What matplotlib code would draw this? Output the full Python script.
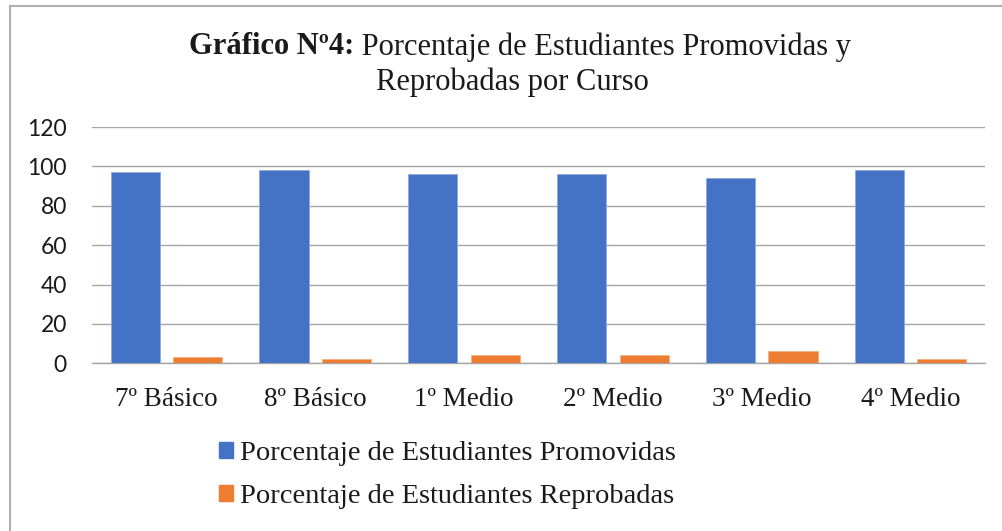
import matplotlib
matplotlib.use("Agg")
import matplotlib.pyplot as plt
import numpy as np
from matplotlib.patches import Rectangle

categories = ["7º Básico", "8º Básico", "1º Medio", "2º Medio", "3º Medio", "4º Medio"]
promovidas = [97, 98, 96, 96, 94, 98]
reprobadas = [3, 2, 4, 4, 6, 2]
series_names = ["Porcentaje de Estudiantes Promovidas", "Porcentaje de Estudiantes Reprobadas"]
yticks = [0, 20, 40, 60, 80, 100, 120]

BLUE = "#4472C4"
ORANGE = "#ED7D31"
GRID = "#A6A6A6"
SERIF = ["Liberation Serif", "DejaVu Serif"]
SANS = ["Lato", "DejaVu Sans"]

W, H = 1002, 531
fig = plt.figure(figsize=(W / 100, H / 100), dpi=100)
fig.patch.set_facecolor("white")

# outer border (left and top visible)
fig.add_artist(plt.Line2D([9.5 / W, 9.5 / W], [0, 1 - 5.5 / H], color="#B0B0B0", lw=1.5, transform=fig.transFigure))
fig.add_artist(plt.Line2D([9.5 / W, 1], [1 - 5.5 / H, 1 - 5.5 / H], color="#B0B0B0", lw=1.5, transform=fig.transFigure))

ax = fig.add_axes([92 / W, 1 - 363.3 / H, (985 - 92) / W, (363.3 - 127) / H])
x = np.arange(len(categories))
bw = 0.33
off = 0.21
ax.bar(x - off, promovidas, width=bw, color=BLUE, edgecolor="#8FAADC", linewidth=0.6, zorder=3, label=series_names[0])
ax.bar(x + off, reprobadas, width=bw, color=ORANGE, edgecolor="#F4B183", linewidth=0.6, zorder=3, label=series_names[1])
ax.set_xlim(-0.5, len(categories) - 0.5)
ax.set_ylim(0, 120)
ax.set_yticks(yticks)
ax.yaxis.grid(True, color=GRID, linewidth=1.0, zorder=0)
for s in ["top", "right", "left"]:
    ax.spines[s].set_visible(False)
ax.spines["bottom"].set_color(GRID)
ax.spines["bottom"].set_linewidth(1.0)
ax.tick_params(axis="both", length=0)
ax.tick_params(axis="y", pad=18)
ax.tick_params(axis="x", pad=17)
ax.set_xticks(x)
ax.set_xticklabels(categories, family=SERIF, fontsize=19.5, color="#1a1a1a")
for lab in ax.get_yticklabels():
    lab.set_family(SANS)
    lab.set_fontsize(16.5)
    lab.set_color("#1a1a1a")

# title with bold prefix
fig.canvas.draw()
r = fig.canvas.get_renderer()
bold_part = "Gráfico Nº4:"
rest_part = " Porcentaje de Estudiantes Promovidas y"
TS = 22
y1 = 1 - 47 / H
t1 = fig.text(0, y1, bold_part, family=SERIF, fontsize=TS, fontweight="bold", va="center", ha="left", color="#1a1a1a")
t2 = fig.text(0, y1, rest_part, family=SERIF, fontsize=TS, va="center", ha="left", color="#1a1a1a")
w1 = t1.get_window_extent(r).width
w2 = t2.get_window_extent(r).width
cx = 520
start = cx - (w1 + w2) / 2
t1.set_x(start / W)
t2.set_x((start + w1) / W)
fig.text(512 / W, 1 - 82 / H, "Reprobadas por Curso", family=SERIF, fontsize=TS, va="center", ha="center", color="#1a1a1a")

# legend
handles = [Rectangle((0, 0), 1, 1, color=BLUE), Rectangle((0, 0), 1, 1, color=ORANGE)]
leg = fig.legend(handles, series_names, loc="upper left", bbox_to_anchor=(219 / W, 1 - 441 / H),
                 frameon=False, prop={"family": SERIF, "size": 20.5}, handlelength=0.5, handleheight=0.5,
                 handletextpad=0.25, labelspacing=0.63, borderpad=0, borderaxespad=0)
for t in leg.get_texts():
    t.set_color("#1a1a1a")

fig.savefig("out.png", dpi=100, facecolor="white")
